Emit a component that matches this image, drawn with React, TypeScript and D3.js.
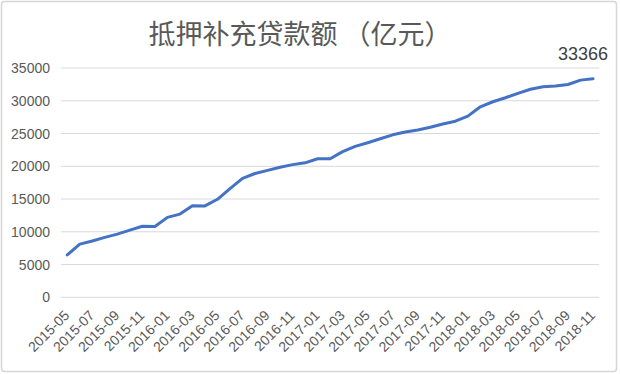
import React, { useEffect, useRef } from 'react';
import * as d3 from 'd3';

const months = [
  '2015-05', '2015-06', '2015-07', '2015-08', '2015-09', '2015-10', '2015-11', '2015-12',
  '2016-01', '2016-02', '2016-03', '2016-04', '2016-05', '2016-06', '2016-07', '2016-08',
  '2016-09', '2016-10', '2016-11', '2016-12', '2017-01', '2017-02', '2017-03', '2017-04',
  '2017-05', '2017-06', '2017-07', '2017-08', '2017-09', '2017-10', '2017-11', '2017-12',
  '2018-01', '2018-02', '2018-03', '2018-04', '2018-05', '2018-06', '2018-07', '2018-08',
  '2018-09', '2018-10', '2018-11',
];

const pslBalance = [
  6459, 8120, 8600, 9150, 9650, 10250, 10850, 10811,
  12200, 12700, 13985, 13950, 14960, 16600, 18160, 18900,
  19380, 19850, 20250, 20526, 21150, 21150, 22230, 23040,
  23600, 24200, 24800, 25230, 25550, 25950, 26450, 26876,
  27650, 29080, 29850, 30460, 31120, 31750, 32150, 32250,
  32480, 33150, 33366,
];

const yTicks = [0, 5000, 10000, 15000, 20000, 25000, 30000, 35000];

const W = 620;
const H = 374;

export default function App() {
  const svgRef = useRef<SVGSVGElement>(null);

  useEffect(() => {
    if (!svgRef.current) return;
    const svg = d3.select(svgRef.current);
    svg.selectAll('*').remove();

    const left = 61;
    const right = 599.3;
    const top = 68;
    const bottom = 297.3;

    const x = d3.scaleBand<string>().domain(months).range([left, right]);
    const y = d3.scaleLinear().domain([0, 35000]).range([bottom, top]);
    const cx = (m: string) => (x(m) as number) + x.bandwidth() / 2;

    // frame
    svg.append('rect')
      .attr('x', 1.5).attr('y', 1.5)
      .attr('width', 615).attr('height', 370)
      .attr('rx', 3)
      .attr('fill', '#fff')
      .attr('stroke', '#d6d6d6')
      .attr('stroke-width', 1.5);

    // title
    svg.append('text')
      .attr('x', 300)
      .attr('y', 44)
      .attr('text-anchor', 'middle')
      .attr('font-family', '"Noto Sans CJK SC", sans-serif')
      .attr('font-size', 27)
      .attr('fill', '#595959')
      .text('抵押补充贷款额 （亿元）');

    // grid lines
    svg.append('g')
      .selectAll('line')
      .data(yTicks)
      .enter()
      .append('line')
      .attr('x1', left).attr('x2', right)
      .attr('y1', d => y(d)).attr('y2', d => y(d))
      .attr('stroke', '#d9d9d9')
      .attr('stroke-width', 1);

    // y axis labels
    svg.append('g')
      .selectAll('text')
      .data(yTicks)
      .enter()
      .append('text')
      .attr('x', 50)
      .attr('y', d => y(d) + 5)
      .attr('text-anchor', 'end')
      .attr('font-family', '"Liberation Sans", Arial, sans-serif')
      .attr('font-size', 14)
      .attr('fill', '#595959')
      .text(d => String(d));

    // x axis labels (every other month)
    svg.append('g')
      .selectAll('text')
      .data(months.filter((_, i) => i % 2 === 0))
      .enter()
      .append('text')
      .attr('transform', d => `translate(${cx(d) + 3},${bottom + 19}) rotate(-45)`)
      .attr('text-anchor', 'end')
      .attr('font-family', '"Liberation Sans", Arial, sans-serif')
      .attr('font-size', 14)
      .attr('fill', '#595959')
      .text(d => d);

    const line = d3.line<number>()
      .x((_, i) => cx(months[i]))
      .y(d => y(d));

    svg.append('path')
      .datum(pslBalance)
      .attr('fill', 'none')
      .attr('stroke', '#4472C4')
      .attr('stroke-width', 3)
      .attr('stroke-linejoin', 'round')
      .attr('stroke-linecap', 'round')
      .attr('d', line);

    // last value label
    const lastVal = pslBalance[pslBalance.length - 1];
    svg.append('text')
      .attr('x', 608)
      .attr('y', 60)
      .attr('text-anchor', 'end')
      .attr('font-family', '"Liberation Sans", Arial, sans-serif')
      .attr('font-size', 18)
      .attr('fill', '#404040')
      .text(String(lastVal));
  }, []);

  return (
    <svg
      ref={svgRef}
      width={W}
      height={H}
      style={{ position: 'absolute', left: 0, top: 0, background: '#fff' }}
    />
  );
}
